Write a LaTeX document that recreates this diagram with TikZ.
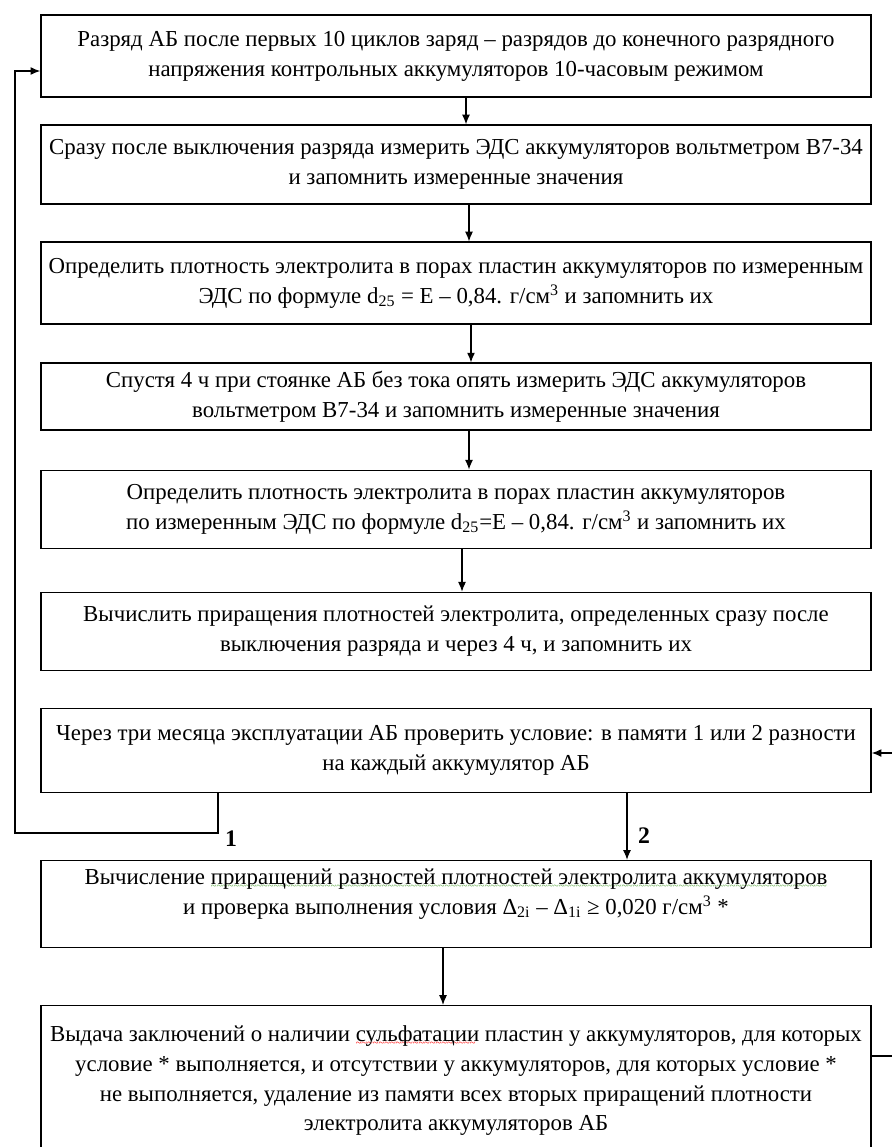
\documentclass[tikz,border=0pt]{standalone}
\usepackage{fontspec}
\setmainfont{Liberation Serif}
\usetikzlibrary{arrows.meta, positioning}

\definecolor{spellgreen}{rgb}{0.35,0.65,0.25}
% wavy spell-check underline under a word
\newcommand{\spellwave}[2]{\setbox0=\hbox{#2}\rlap{\textcolor{#1}{\raisebox{-3pt}{\hbox to \wd0{\fontsize{6}{6}\selectfont\leaders\hbox{\char"007E}\hfill}}}}\box0\relax}

\begin{document}
\begin{tikzpicture}[node distance=0.8cm]
  \tikzstyle{line}=[draw, line width=0.6pt]
  \tikzstyle{process} = [rectangle, minimum width=16.6cm, text centered, align=center, inner xsep=2pt, inner ysep=2pt, draw=black, line width=0.9pt, font=\fontsize{13}{17}\selectfont]
  \tikzstyle{arrow}=[draw, line width=0.6pt, -{Latex[length=5.5pt,width=4.5pt]}]
  \tikzstyle{branch}=[font=\fontsize{13.5}{17}\selectfont\bfseries]

  \useasboundingbox (0,0) rectangle (17.84,-22.94);
  \clip (0,0) rectangle (17.84,-22.94);

  \node (discharge) [process, minimum height=1.64cm] at (9.12,-1.12) {Разряд АБ после первых 10 циклов заряд – разрядов до конечного разрядного\\ напряжения контрольных аккумуляторов 10-часовым режимом};
  \node (emf) [process, minimum height=1.58cm, below=0.53cm of discharge] {Сразу после выключения разряда измерить ЭДС аккумуляторов вольтметром В7-34\\ и запомнить измеренные значения};
  \node (density) [process, minimum height=1.64cm, below=0.73cm of emf] {Определить плотность электролита в порах пластин аккумуляторов по измеренным\\ ЭДС по формуле d\textsubscript{25} = Е – 0,84. г/см\textsuperscript{3} и запомнить их};
  \node (rest) [process, minimum height=1.34cm, below=0.75cm of density] {Спустя 4 ч при стоянке АБ без тока опять измерить ЭДС аккумуляторов\\ вольтметром В7-34 и запомнить измеренные значения};
  \node (density4h) [process, minimum height=1.56cm, below=0.77cm of rest] {Определить плотность электролита в порах пластин аккумуляторов\\ по измеренным ЭДС по формуле d\textsubscript{25}=Е – 0,84. г/см\textsuperscript{3} и запомнить их};
  \node (increment) [process, minimum height=1.56cm, below=0.85cm of density4h] {Вычислить приращения плотностей электролита, определенных сразу после\\ выключения разряда и через 4 ч, и запомнить их};
  \node (check) [process, minimum height=1.68cm, below=0.73cm of increment] {Через три месяца эксплуатации АБ проверить условие: в памяти 1 или 2 разности\\ на каждый аккумулятор АБ};
  \node (compare) [process, minimum height=1.74cm, text depth=0.5cm, below=1.33cm of check] {Вычисление \spellwave{spellgreen}{приращений разностей плотностей электролита аккумуляторов}\\ и проверка выполнения условия Δ\textsubscript{2i} – Δ\textsubscript{1i} ≥ 0,020 г/см\textsuperscript{3} *};
  \node (verdict) [process, minimum height=3.0cm, below=1.13cm of compare] {Выдача заключений о наличии \spellwave{red}{сульфатации} пластин у аккумуляторов, для которых\\ условие * выполняется, и отсутствии у аккумуляторов, для которых условие *\\ не выполняется, удаление из памяти всех вторых приращений плотности\\ электролита аккумуляторов АБ};

  \draw [arrow] ([xshift=0.2cm]discharge.south) -- ([xshift=0.2cm]emf.north);
  \draw [arrow] ([xshift=0.26cm]emf.south) -- ([xshift=0.26cm]density.north);
  \draw [arrow] ([xshift=0.3cm]density.south) -- ([xshift=0.3cm]rest.north);
  \draw [arrow] ([xshift=0.26cm]rest.south) -- ([xshift=0.26cm]density4h.north);
  \draw [arrow] ([xshift=0.12cm]density4h.south) -- ([xshift=0.12cm]increment.north);

  % branch 1 goes back to the start
  \coordinate (back) at (0.3,-16.66);
  \draw [arrow] ([xshift=-4.76cm]check.south) |- (back) |- ([yshift=-0.3cm]discharge.west);
  \node (one) [branch] at (4.62,-16.78) {1};

  % branch 2
  \draw [arrow] ([xshift=3.42cm]check.south) -- ([xshift=3.42cm]compare.north);
  \node (two) [branch] at (12.88,-16.72) {2};
  \draw [arrow] ([xshift=-0.26cm]compare.south) -- ([xshift=-0.26cm]verdict.north);

  % lines at the right edge
  \coordinate (feedin) at (17.9,-15.06);
  \draw [arrow] (feedin) -- (feedin -| check.east);
  \coordinate (feedout) at (17.9,-21.12);
  \draw [line] (feedout -| verdict.east) -- (feedout);
\end{tikzpicture}
\end{document}
